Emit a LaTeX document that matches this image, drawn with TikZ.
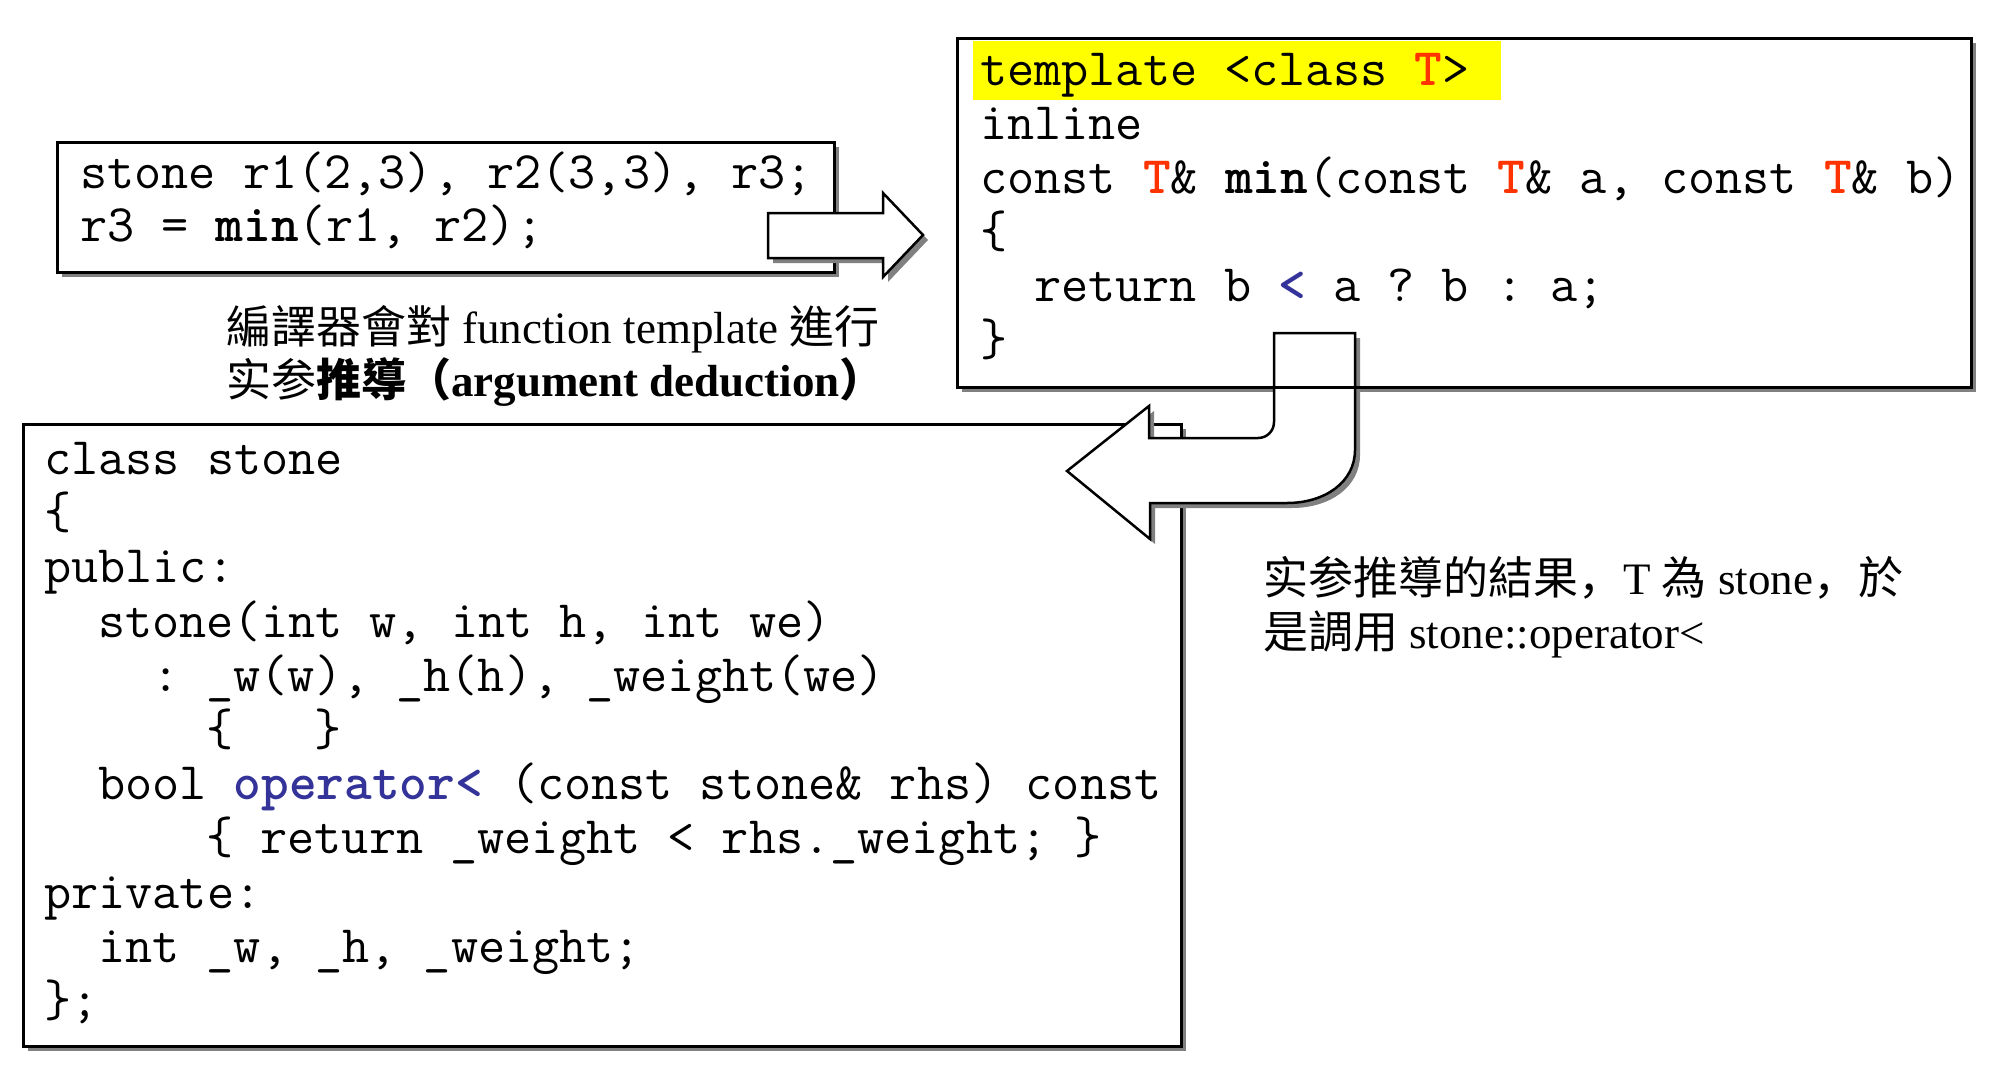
\documentclass[tikz,border=0pt]{standalone}
\usepackage{fontspec}
\setmainfont{Liberation Serif}
\newfontfamily\cjk{Noto Sans CJK TC}
\newfontfamily\cjksc{Noto Sans CJK SC}
\usetikzlibrary{shadows}
\definecolor{tred}{HTML}{FF3300}
\definecolor{tblue}{HTML}{333399}
\definecolor{hlyellow}{HTML}{FFFF00}
\definecolor{shadowc}{HTML}{808080}
\newcommand\RT{{\bfseries\color{tred}T}}
\newcommand\uarrowpath{(1274,333) -- (1355,333) -- (1355,450) .. controls (1355,482) and (1325,503) .. (1287,503) -- (1150,503) -- (1150,539) -- (1067,471) -- (1149,406) -- (1149,438) -- (1258,438) .. controls (1267,438) and (1274,431) .. (1274,422) -- cycle}
\newcommand\rarrowpath{(768,213) -- (883,213) -- (883,193) -- (923,235) -- (883,277) -- (883,258) -- (768,258) -- cycle}
\begin{document}
\begin{tikzpicture}[x=1pt,y=-1pt,
  box/.style={draw=black, line width=3pt, fill=white, outer sep=0pt, inner sep=0pt,
    anchor=north west, drop shadow={shadow xshift=5pt, shadow yshift=-5pt, fill=shadowc, opacity=1}},
  boxline/.style={draw=black, line width=3pt},
  blockarrow/.style={draw=black, line width=2.5pt, fill=white, line join=miter},
  code/.style={font=\ttfamily\fontsize{52.7}{60}\selectfont\frenchspacing, anchor=base west, inner sep=0pt},
  captext/.style={font=\fontsize{45}{54}\selectfont, anchor=base west, inner sep=0pt}]
\useasboundingbox (0,0) rectangle (1991,1076);
% boxes
\node[box, minimum width=777pt, minimum height=130pt] (box1) at (57,142) {};
\node[box, minimum width=1158pt, minimum height=622pt] (box3) at (23,424) {};
\node[box, minimum width=1014pt, minimum height=349pt] (box2) at (957,38) {};
\fill[hlyellow] (973,41) rectangle (1501,100);
% right block arrow
\fill[shadowc, shift={(5,5)}] \rarrowpath;
\filldraw[blockarrow] \rarrowpath;
% U-turn block arrow
\fill[shadowc, shift={(5,5)}] \uarrowpath;
\filldraw[blockarrow] \uarrowpath;
\draw[boxline] (box2.north west) rectangle (box2.south east);
% box1 text
\node[code] (a1) at (80,188) {stone r1(2,3), r2(3,3), r3;};
\node[code] (a2) at (80,241) {r3 = \textbf{min}(r1, r2);};
% box2 text
\node[code] (t1) at (980,85) {template <class \RT>};
\node[code] (t2) at (980,139) {inline};
\node[code] (t3) at (980,193) {const \RT\& \textbf{min}(const \RT\& a, const \RT\& b)};
\node[code] (t4) at (980,247) {\{};
\node[code] (t5) at (1034,301) {return b {\bfseries\color{tblue}<} a ? b : a;};
\node[code] (t6) at (980,355) {\}};
% box3 text
\node[code] (c1) at (44,474) {class stone};
\node[code] (c2) at (44,528) {\{};
\node[code] (c3) at (44,582) {public:};
\node[code] (c4) at (98,637) {stone(int w, int h, int we)};
\node[code] (c5) at (152,691) {: \_w(w), \_h(h), \_weight(we)};
\node[code] (c6) at (206,745) {\{\ \ \ \}};
\node[code] (c7) at (98,799) {bool {\bfseries\color{tblue}operator<} (const stone\& rhs) const};
\node[code] (c8) at (206,853) {\{ return \_weight < rhs.\_weight; \}};
\node[code] (c9) at (44,908) {private:};
\node[code] (c10) at (98,962) {int \_w, \_h, \_weight;};
\node[code] (c11) at (44,1016) {\};};
% captions
\node[captext] (k1) at (226,343) {{\cjk 編譯器會對} function template {\cjk 進行}};
\node[captext] (k2) at (226,396) {{\cjksc 实参}{\cjk\bfseries 推導（}\textbf{argument deduction}{\cjk\bfseries ）}};
\node[captext] (m1) at (1263,594) {{\cjksc 实参}{\cjk 推導的結果}{\cjksc ，}T {\cjk 為} stone{\cjksc ，}{\cjk 於}};
\node[captext] (m2) at (1263,648) {{\cjk 是調用} stone::operator<};
\end{tikzpicture}
\end{document}
